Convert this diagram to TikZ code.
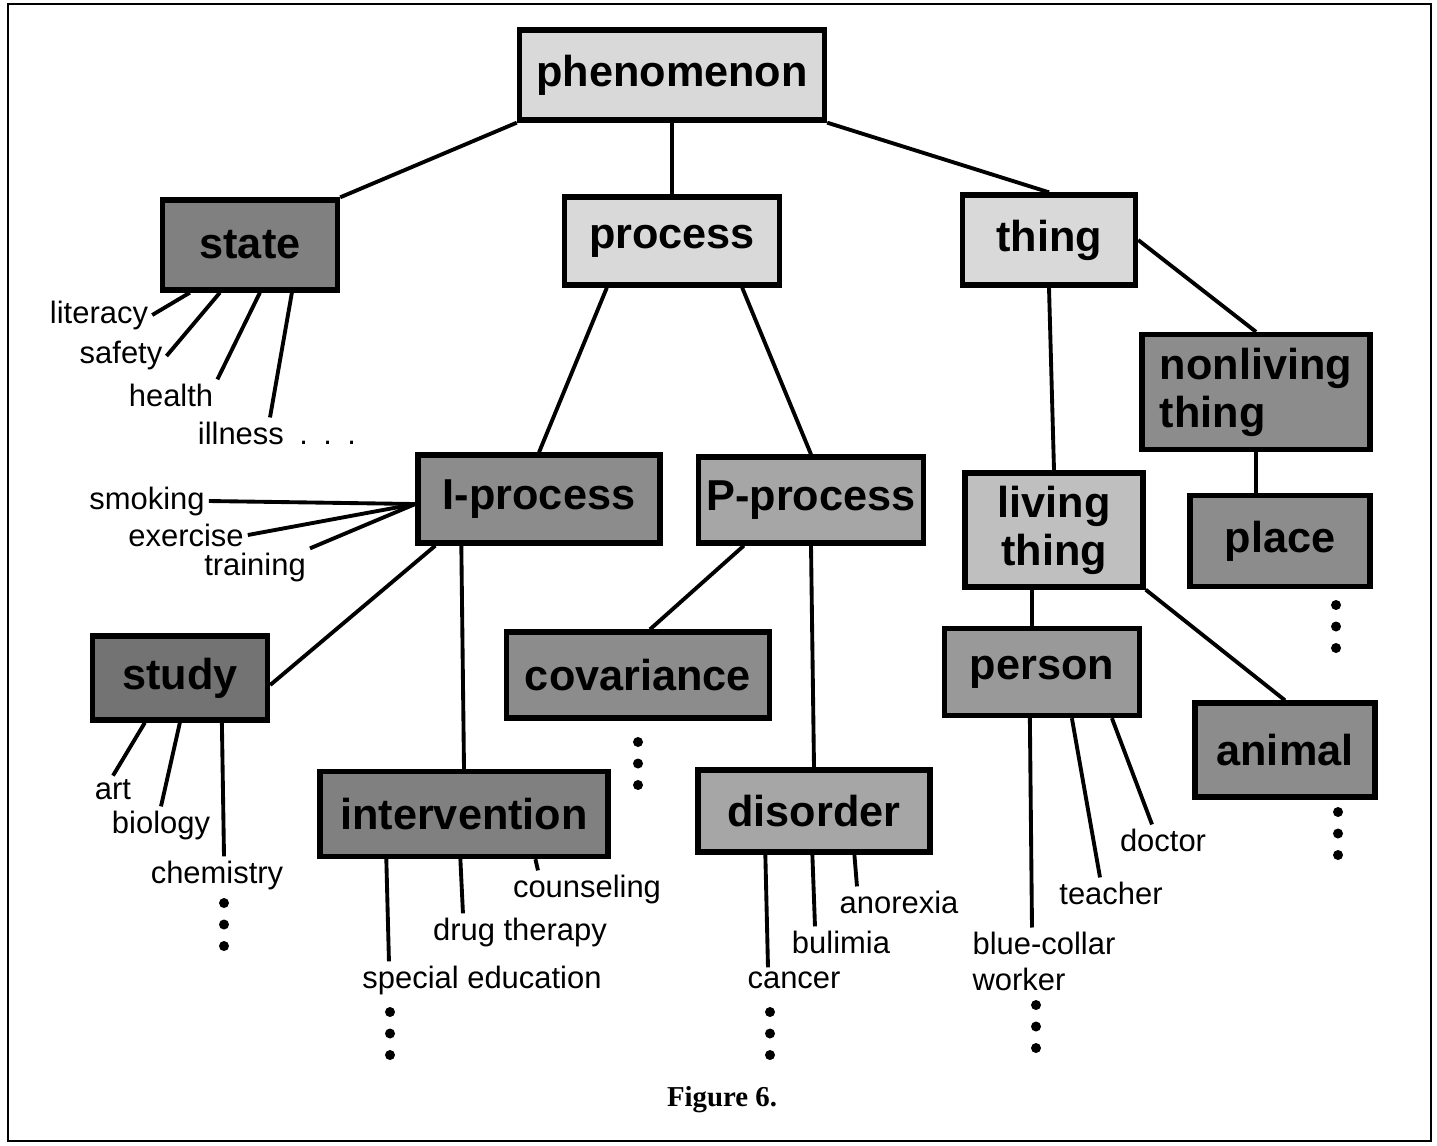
\documentclass[tikz,border=0pt]{standalone}
\usepackage{fontspec}
\setmainfont{Liberation Sans}
\newfontfamily\capfont{Liberation Serif}

\begin{document}
\begin{tikzpicture}[
  x=0.01cm, y=-0.01cm,
  concept/.style={
    draw,
    line width=1.5pt,
    align=center,
    minimum height=0.88cm,
    inner sep=2pt,
    font=\fontsize{12.3}{13.6}\selectfont\bfseries
  },
  leaf/.style={
    inner sep=1pt,
    font=\fontsize{8.8}{10.2}\selectfont
  },
  tie/.style={line width=1.1pt}
]

\useasboundingbox (0,0) rectangle (1437,1145);
\draw[line width=0.7pt] (8,4) rectangle (1431,1141);

% Concept boxes
\node[concept, fill=black!15, minimum width=3.05cm, minimum height=0.9cm] (phenomenon) at (672,75) {phenomenon};

\node[concept, fill=black!50, minimum width=1.75cm, minimum height=0.9cm] (state) at (250,245) {state};
\node[concept, fill=black!15, minimum width=2.15cm] (process) at (672,241) {process};
\node[concept, fill=black!15, minimum width=1.73cm, minimum height=0.9cm] (thing) at (1049,240) {thing};

\node[concept, fill=black!45, minimum width=2.42cm] (iprocess) at (539,499) {I-process};
\node[concept, fill=black!35, minimum width=2.25cm, minimum height=0.86cm] (pprocess) at (811,500) {P-process};
\node[concept, fill=black!25, minimum width=1.78cm, minimum height=1.14cm] (living) at (1054,530) {living\\thing};
\node[concept, fill=black!45, minimum width=2.28cm, minimum height=1.15cm, align=left] (nonliving) at (1256,392) {nonliving\\thing};

\node[concept, fill=black!45, minimum width=1.8cm, minimum height=0.91cm] (place) at (1280,541) {place};
\node[concept, fill=black!55, minimum width=1.75cm, minimum height=0.84cm] (study) at (180,678) {study};
\node[concept, fill=black!45, minimum width=2.63cm, minimum height=0.86cm] (covariance) at (638,675) {covariance};
\node[concept, fill=black!40, minimum width=1.95cm, minimum height=0.87cm] (person) at (1042,672) {person};
\node[concept, fill=black!45, minimum width=1.8cm, minimum height=0.94cm] (animal) at (1285,750) {animal};
\node[concept, fill=black!50, minimum width=2.88cm, minimum height=0.85cm] (intervention) at (464,814) {intervention};
\node[concept, fill=black!35, minimum width=2.32cm, minimum height=0.82cm] (disorder) at (814,811) {disorder};

% Leaf labels
\node[leaf] (literacy) at (99,315) {literacy};
\node[leaf] (safety) at (121,356) {safety};
\node[leaf] (health) at (171,395) {health};
\node[leaf] (illness) at (277,433) {illness\enspace.\enspace.\enspace.};

\node[leaf] (smoking) at (147,501) {smoking};
\node[leaf] (exercise) at (186,535) {exercise};
\node[leaf] (training) at (255,567) {training};

\node[leaf] (art) at (113,790) {art};
\node[leaf] (biology) at (161,825) {biology};
\node[leaf] (chemistry) at (217,875) {chemistry};

\node[leaf] (counseling) at (587,889) {counseling};
\node[leaf] (drug) at (520,932) {drug therapy};
\node[leaf] (special) at (482,980) {special education};

\node[leaf] (anorexia) at (899,902) {anorexia};
\node[leaf] (bulimia) at (841,942) {bulimia};
\node[leaf] (cancer) at (794,980) {cancer};

\node[leaf] (doctor) at (1163,840) {doctor};
\node[leaf] (teacher) at (1111,893) {teacher};
\node[leaf, align=left] (worker) at (1044,961) {blue-collar\\worker};

% Hierarchy links
\draw[tie] (phenomenon.south west) -- (state.north east);
\draw[tie] (phenomenon.south) -- (process.north);
\draw[tie] (phenomenon.south east) -- (thing.north);

\draw[tie] ([xshift=0.45cm]process.south west) -- (iprocess.north);
\draw[tie] ([xshift=-0.4cm]process.south east) -- (pprocess.north);
\draw[tie] (thing.south) -- (living.north);
\draw[tie] (thing.east) -- (nonliving.north);
\draw[tie] (nonliving.south) -- (nonliving.south |- place.north);

\draw[tie] ([xshift=0.2cm]iprocess.south west) -- ([yshift=-0.07cm]study.east);
\draw[tie] ([xshift=0.46cm]iprocess.south west) -- (intervention.north);
\draw[tie] ([xshift=0.48cm]pprocess.south west) -- ([xshift=0.12cm]covariance.north);
\draw[tie] (pprocess.south) -- (disorder.north);
\draw[tie] ([xshift=-0.22cm]living.south) -- ([xshift=-0.1cm]person.north);
\draw[tie] (living.south east) -- (animal.north);

% Leaf links
\draw[tie] ([xshift=0.3cm]state.south west) -- (literacy.east);
\draw[tie] ([xshift=0.6cm]state.south west) -- (safety.east);
\draw[tie] ([xshift=1.0cm]state.south west) -- (health.north east);
\draw[tie] ([xshift=1.32cm]state.south west) -- ([xshift=-0.07cm]illness.north);

\draw[tie] (smoking.east) -- ([yshift=-0.05cm]iprocess.west);
\draw[tie] (exercise.east) -- ([yshift=-0.05cm]iprocess.west);
\draw[tie] (training.north east) -- ([yshift=-0.05cm]iprocess.west);

\draw[tie] ([xshift=0.55cm]study.south west) -- (art.north);
\draw[tie] ([xshift=0.9cm]study.south west) -- (biology.north);
\draw[tie] ([xshift=1.32cm]study.south west) -- ([xshift=0.07cm]chemistry.north);

\draw[tie] ([xshift=2.18cm]intervention.south west) -- ([xshift=-0.49cm]counseling.north);
\draw[tie] ([xshift=1.43cm]intervention.south west) -- ([xshift=-0.57cm]drug.north);
\draw[tie] ([xshift=0.69cm]intervention.south west) -- ([xshift=-0.93cm]special.north);

\draw[tie] ([xshift=1.59cm]disorder.south west) -- ([xshift=-0.42cm]anorexia.north);
\draw[tie] ([xshift=1.17cm]disorder.south west) -- ([xshift=-0.26cm]bulimia.north);
\draw[tie] ([xshift=0.70cm]disorder.south west) -- ([xshift=-0.26cm]cancer.north);

\draw[tie] ([xshift=1.7cm]person.south west) -- ([xshift=-0.11cm]doctor.north);
\draw[tie] ([xshift=1.3cm]person.south west) -- ([xshift=-0.11cm]teacher.north);
\draw[tie] ([xshift=0.88cm]person.south west) -- ([xshift=-0.12cm]worker.north);

% Continuation dots
\foreach \dx/\dy in {1336/605, 638/742, 224/903, 390/1012, 770/1012, 1036/1005, 1338/812}
  \foreach \k in {0,1,2}
    \fill (\dx,{\dy+21.5*\k}) circle (0.05cm);

% Caption
\node[font={\capfont\fontsize{8.2}{10}\selectfont\bfseries}] (caption) at (722,1100) {Figure 6.};

\end{tikzpicture}
\end{document}
